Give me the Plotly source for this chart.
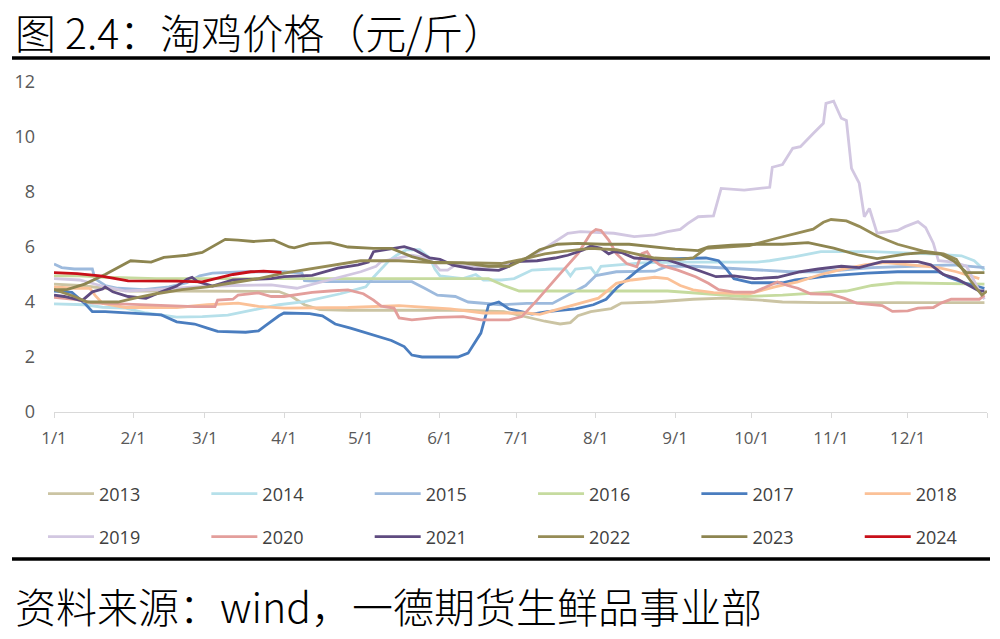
import plotly.graph_objects as go

# ---------------- data (x = days since Jan 1, y = 元/斤) ----------------
MONTH_STARTS = [0, 31, 59, 90, 120, 151, 181, 212, 243, 273, 304, 334, 365]
MONTH_LABELS = ["1/1", "2/1", "3/1", "4/1", "5/1", "6/1", "7/1", "8/1", "9/1", "10/1", "11/1", "12/1", ""]
Y_TICKS = [0, 2, 4, 6, 8, 10, 12]

YEARS = ["2013", "2014", "2015", "2016", "2017", "2018",
         "2019", "2020", "2021", "2022", "2023", "2024"]

d2013 = [0, 10, 20, 30, 45, 60, 75, 88, 93, 98, 104, 115, 140, 160, 176, 185, 192, 198, 202, 205, 210, 218, 222, 235, 250, 262, 275, 285, 300, 364]
v2013 = [4.65, 4.6, 4.5, 4.4, 4.4, 4.4, 4.4, 4.38, 4.2, 3.9, 3.72, 3.7, 3.7, 3.7, 3.65, 3.45, 3.3, 3.2, 3.25, 3.5, 3.65, 3.76, 3.96, 4.0, 4.1, 4.14, 4.08, 4.0, 3.98, 3.98]

d2014 = [0, 12, 19, 28, 36, 48, 58, 68, 78, 88, 98, 105, 112, 118, 122, 125, 128, 131, 134, 138, 143, 147, 149, 151, 160, 165, 168, 175, 180, 187, 195, 200, 202, 204, 210, 212, 214, 220, 230, 245, 275, 280, 290, 300, 320, 345, 355, 360, 364]
v2014 = [3.93, 3.9, 3.81, 3.78, 3.6, 3.45, 3.47, 3.52, 3.71, 3.9, 4.01, 4.15, 4.3, 4.45, 4.55, 4.9, 5.2, 5.5, 5.7, 5.9, 5.9, 5.6, 5.2, 4.95, 4.85, 5.0, 4.8, 4.8, 4.85, 5.16, 5.2, 5.2, 4.95, 5.2, 5.25, 5.0, 5.3, 5.35, 5.42, 5.45, 5.45, 5.5, 5.65, 5.83, 5.83, 5.74, 5.68, 5.5, 5.16]

d2015 = [0, 3, 8, 15, 16, 20, 25, 35, 45, 52, 57, 62, 75, 90, 97, 98, 105, 140, 145, 150, 157, 162, 175, 185, 195, 200, 208, 212, 220, 235, 240, 250, 258, 275, 288, 300, 320, 336, 352, 364]
v2015 = [5.38, 5.25, 5.2, 5.2, 4.85, 4.6, 4.5, 4.45, 4.55, 4.7, 4.95, 5.05, 5.1, 5.1, 5.05, 4.78, 4.74, 4.74, 4.5, 4.25, 4.2, 4.0, 3.9, 3.95, 3.95, 4.2, 4.6, 4.96, 5.1, 5.12, 5.3, 5.3, 5.26, 5.16, 5.1, 5.1, 5.25, 5.3, 5.35, 5.25]

d2016 = [0, 10, 20, 40, 100, 160, 170, 176, 182, 240, 255, 270, 285, 295, 310, 320, 330, 364]
v2016 = [4.95, 4.95, 4.9, 4.85, 4.85, 4.85, 4.85, 4.6, 4.4, 4.4, 4.3, 4.2, 4.25, 4.32, 4.4, 4.6, 4.7, 4.65]

d2017 = [0, 7, 12, 15, 20, 30, 42, 48, 55, 60, 64, 75, 80, 83, 88, 90, 100, 105, 110, 116, 125, 132, 137, 140, 144, 158, 162, 167, 170, 174, 178, 187, 193, 204, 211, 216, 220, 225, 229, 234, 240, 255, 260, 263, 266, 273, 285, 290, 303, 318, 330, 346, 350, 356, 364]
v2017 = [4.4, 4.35, 3.95, 3.65, 3.65, 3.6, 3.53, 3.28, 3.2, 3.05, 2.93, 2.9, 2.95, 3.16, 3.5, 3.6, 3.58, 3.5, 3.2, 3.05, 2.8, 2.6, 2.38, 2.07, 2.0, 2.0, 2.14, 2.87, 3.89, 4.0, 3.75, 3.56, 3.65, 3.75, 3.9, 4.1, 4.5, 4.9, 5.2, 5.5, 5.57, 5.6, 5.5, 5.2, 4.85, 4.7, 4.7, 4.8, 4.95, 5.05, 5.1, 5.1, 4.9, 4.7, 4.5]

d2018 = [0, 8, 14, 16, 19, 28, 48, 60, 72, 80, 90, 115, 135, 155, 168, 185, 190, 196, 206, 213, 220, 226, 235, 240, 245, 250, 258, 272, 282, 291, 300, 307, 317, 325, 332, 346, 353, 362]
v2018 = [4.55, 4.5, 4.5, 4.25, 3.95, 3.8, 3.8, 3.9, 3.96, 3.84, 3.78, 3.8, 3.87, 3.75, 3.6, 3.6, 3.55, 3.7, 3.96, 4.14, 4.68, 4.8, 4.9, 4.85, 4.6, 4.44, 4.34, 4.3, 4.55, 4.73, 5.0, 5.16, 5.35, 5.43, 5.38, 5.25, 5.1, 4.85]

d2019 = [0, 10, 18, 28, 40, 55, 70, 85, 95, 105, 111, 120, 126, 128, 132, 140, 146, 148, 151, 154, 157, 167, 175, 182, 191, 201, 206, 219, 227, 235, 240, 245, 248, 252, 258, 261, 270, 280, 281, 285, 289, 292, 297, 301, 302, 305, 308, 310, 312, 315, 317, 319, 322, 330, 333, 338, 341, 344, 346, 352, 357, 362, 364]
v2019 = [4.85, 4.8, 4.6, 4.4, 4.45, 4.55, 4.6, 4.62, 4.5, 4.75, 4.9, 5.1, 5.3, 5.47, 5.55, 5.7, 5.6, 5.47, 5.16, 5.16, 5.34, 5.26, 5.3, 5.47, 5.89, 6.5, 6.56, 6.5, 6.38, 6.44, 6.56, 6.64, 6.86, 7.1, 7.13, 8.13, 8.07, 8.17, 8.9, 9.0, 9.59, 9.65, 10.13, 10.5, 11.22, 11.3, 10.68, 10.6, 8.86, 8.32, 7.1, 7.4, 6.5, 6.6, 6.74, 6.92, 6.7, 6.14, 5.5, 5.45, 5.3, 4.4, 4.1]

d2020 = [0, 8, 15, 35, 55, 63, 64, 70, 72, 80, 85, 90, 101, 108, 115, 121, 125, 128, 133, 135, 140, 150, 160, 167, 178, 183, 189, 197, 205, 210, 212, 214, 217, 220, 224, 228, 230, 232, 234, 237, 241, 244, 251, 256, 260, 266, 274, 283, 287, 291, 296, 304, 309, 314, 324, 328, 334, 338, 344, 347, 351, 362, 364]
v2020 = [4.17, 4.1, 3.97, 3.9, 3.83, 3.83, 4.07, 4.1, 4.25, 4.33, 4.2, 4.2, 4.35, 4.4, 4.44, 4.3, 4.07, 3.85, 3.78, 3.42, 3.35, 3.44, 3.47, 3.35, 3.35, 3.47, 4.07, 4.92, 5.76, 6.5, 6.64, 6.6, 6.25, 5.76, 5.4, 5.28, 5.76, 5.83, 5.55, 5.35, 5.25, 5.16, 4.92, 4.68, 4.45, 4.36, 4.36, 4.73, 4.6, 4.5, 4.3, 4.28, 4.14, 3.96, 3.87, 3.66, 3.68, 3.78, 3.8, 3.96, 4.1, 4.1, 4.25]

d2021 = [0, 4, 11, 15, 19, 20, 23, 29, 36, 42, 48, 52, 54, 56, 62, 70, 85, 90, 101, 111, 119, 123, 125, 131, 137, 141, 147, 151, 156, 164, 174, 178, 180, 189, 196, 201, 207, 210, 214, 217, 219, 222, 227, 232, 240, 246, 254, 259, 266, 274, 283, 292, 299, 308, 315, 324, 338, 343, 348, 353, 358, 362, 364]
v2021 = [4.25, 4.2, 4.05, 4.37, 4.47, 4.55, 4.37, 4.2, 4.13, 4.37, 4.58, 4.83, 4.9, 4.75, 4.58, 4.8, 4.85, 4.92, 4.97, 5.23, 5.35, 5.45, 5.83, 5.93, 6.01, 5.9, 5.6, 5.55, 5.34, 5.2, 5.15, 5.3, 5.47, 5.5, 5.6, 5.7, 5.89, 6.04, 5.95, 5.75, 5.83, 5.8, 5.6, 5.57, 5.53, 5.35, 5.1, 4.92, 4.95, 4.85, 4.9, 5.1, 5.2, 5.3, 5.25, 5.47, 5.47, 5.35, 5.0, 4.85, 4.6, 4.4, 4.4]

d2022 = [0, 8, 13, 25, 32, 40, 50, 60, 70, 80, 90, 100, 110, 120, 135, 150, 165, 175, 183, 192, 200, 210, 220, 235, 245, 250, 255, 265, 272, 282, 290, 297, 301, 304, 310, 315, 322, 330, 340, 348, 353, 356, 360, 363, 365]
v2022 = [4.45, 4.2, 4.0, 4.0, 4.15, 4.3, 4.45, 4.55, 4.7, 4.85, 5.05, 5.2, 5.35, 5.5, 5.5, 5.42, 5.42, 5.4, 5.55, 5.75, 5.85, 5.95, 5.9, 5.6, 5.55, 5.6, 5.95, 6.0, 6.05, 6.3, 6.5, 6.65, 6.9, 7.0, 6.95, 6.75, 6.4, 6.1, 5.85, 5.75, 5.55, 5.1, 4.6, 4.25, 4.4]

d2023 = [0, 5, 12, 20, 30, 38, 43, 52, 58, 64, 67, 72, 78, 86, 92, 94, 100, 108, 115, 125, 132, 140, 148, 160, 170, 178, 184, 190, 197, 205, 215, 225, 235, 243, 252, 256, 265, 275, 285, 295, 305, 315, 322, 333, 340, 347, 352, 357, 364]
v2023 = [4.45, 4.45, 4.65, 5.0, 5.5, 5.45, 5.62, 5.7, 5.8, 6.1, 6.28, 6.25, 6.2, 6.25, 6.0, 5.97, 6.12, 6.16, 6.0, 5.95, 5.95, 5.65, 5.45, 5.42, 5.3, 5.3, 5.55, 5.9, 6.1, 6.13, 6.1, 6.1, 6.0, 5.92, 5.87, 6.0, 6.07, 6.1, 6.1, 6.16, 5.96, 5.7, 5.58, 5.74, 5.8, 5.74, 5.49, 5.07, 5.07]

d2024 = [0, 9, 18, 24, 29, 48, 58, 64, 70, 77, 82, 89]
v2024 = [5.07, 5.03, 4.95, 4.85, 4.77, 4.76, 4.73, 4.87, 5.0, 5.1, 5.12, 5.08]

COLORS = ["#cbc4a3", "#b6e0ea", "#9dbadd", "#c6db9f", "#4a7dbf", "#fbc197",
          "#d2c7e1", "#e39e9b", "#5f4b80", "#968c56", "#8d8550", "#c8101a"]

# ---------------- figure ----------------
series_x = [d2013, d2014, d2015, d2016, d2017, d2018, d2019, d2020, d2021, d2022, d2023, d2024]
series_y = [v2013, v2014, v2015, v2016, v2017, v2018, v2019, v2020, v2021, v2022, v2023, v2024]

fig = go.Figure()
for i, (name, xs, ys, c) in enumerate(zip(YEARS, series_x, series_y, COLORS)):
    fig.add_trace(go.Scatter(
        x=xs, y=ys, name=name, mode="lines",
        line=dict(color=c, width=2.8),
        legend="legend" if i < 6 else "legend2",
    ))

W, H = 1000, 639
L, R, T, B = 54, 13, 82, 227
PW, PH = W - L - R, H - T - B


def px_x(p):
    return (p - L) / PW


def px_y(p):
    return (H - B - p) / PH


tick_font = dict(family="Open Sans, Noto Sans, sans-serif", size=17, color="#595959")
legend_common = dict(
    orientation="h", xanchor="left", yanchor="middle",
    x=px_x(43), entrywidthmode="fraction", entrywidth=0.1655,
    itemwidth=46,
    font=dict(family="Open Sans, Noto Sans, sans-serif", size=18, color="#404040"),
    bgcolor="rgba(0,0,0,0)", itemclick=False, itemdoubleclick=False,
)

fig.update_layout(
    width=W, height=H,
    margin=dict(l=L, r=R, t=T, b=B, autoexpand=False),
    paper_bgcolor="white", plot_bgcolor="white",
    showlegend=True,
    legend=dict(legend_common, y=px_y(494)),
    legend2=dict(legend_common, y=px_y(537)),
    xaxis=dict(
        range=[0, 365], tickmode="array", tickvals=MONTH_STARTS, ticktext=MONTH_LABELS,
        showgrid=False, zeroline=False, showline=True, linecolor="#d9d9d9", linewidth=1.2,
        ticks="outside", ticklen=5, tickcolor="#d9d9d9", tickwidth=1.2,
        tickfont=tick_font, ticklabelstandoff=5,
    ),
    yaxis=dict(
        range=[0, 12], tickmode="array", tickvals=Y_TICKS,
        showgrid=False, zeroline=False, showline=False, ticks="",
        tickfont=dict(tick_font, size=18), ticklabelstandoff=18,
    ),
    annotations=[
        dict(text="图 2.4：淘鸡价格（元/斤）", xref="paper", yref="paper",
             x=px_x(13), y=px_y(31), xanchor="left", yanchor="middle", showarrow=False,
             font=dict(family="Noto Sans CJK SC", size=41, weight=300, color="black")),
        dict(text="资料来源：wind，一德期货生鲜品事业部", xref="paper", yref="paper",
             x=px_x(13), y=px_y(605), xanchor="left", yanchor="middle", showarrow=False,
             font=dict(family="Noto Sans CJK SC", size=41, weight=300, color="black")),
    ],
    shapes=[
        dict(type="line", xref="paper", yref="paper", x0=px_x(12), x1=px_x(990),
             y0=px_y(58), y1=px_y(58), line=dict(color="black", width=3.5)),
        dict(type="line", xref="paper", yref="paper", x0=px_x(12), x1=px_x(990),
             y0=px_y(559), y1=px_y(559), line=dict(color="black", width=3.5)),
    ],
)

fig.write_html(
    "out.html",
    config={"displayModeBar": False},
    post_script="document.body.style.margin='0';document.body.style.overflow='hidden';",
)
